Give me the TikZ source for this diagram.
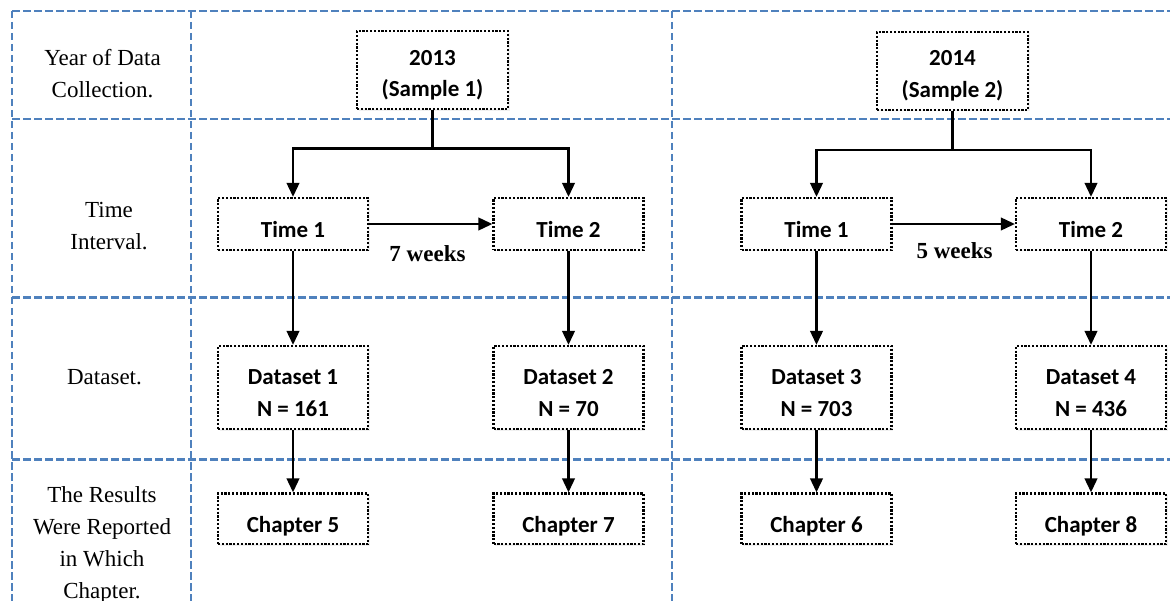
\documentclass[tikz,border=0pt]{standalone}
\usepackage{fontspec}
\setmainfont{Liberation Serif}
\newfontfamily\boxfont{Carlito}
\usetikzlibrary{arrows.meta,shadows}
\definecolor{gridblue}{RGB}{79,129,189}
\begin{document}
\begin{tikzpicture}[x=1pt,y=-1pt,
  grid/.style={gridblue, line width=2.4pt, dash pattern=on 7.5pt off 3.5pt},
  stepbox/.style={draw=black, line width=2.2pt, dash pattern=on 2.2pt off 1.6pt,
    fill=white, inner sep=0pt, minimum width=150pt,
    font=\boxfont\bfseries\fontsize{23}{31.5}\selectfont,
    drop shadow={opacity=0.12, shadow xshift=1.5pt, shadow yshift=-1.5pt}},
  yearbox/.style={stepbox, minimum width=151pt, text height=34pt, text depth=44pt},
  timebox/.style={stepbox, text height=40pt, text depth=12pt},
  databox/.style={stepbox, text height=39pt, text depth=44pt},
  chapbox/.style={stepbox, text height=39pt, text depth=11.5pt},
  rowlabel/.style={inner sep=0pt, anchor=base, font=\fontsize{23}{32}\selectfont},
  gaplabel/.style={inner sep=0pt, anchor=base, font=\bfseries\fontsize{23}{28}\selectfont},
  link/.style={black, line width=2.4pt},
  arrow/.style={link, -{Triangle[length=14pt,width=12.5pt]}}
]
\useasboundingbox (0,0) rectangle (1170,601);

% table grid
\draw[grid] (12,11) -- (1170,11);
\draw[grid] (12,119) -- (1170,119);
\draw[grid] (12,297.5) -- (1170,297.5);
\draw[grid] (12,459.5) -- (1170,459.5);
\draw[grid] (12,11) -- (12,601);
\draw[grid] (191,11) -- (191,601);
\draw[grid] (672,11) -- (672,601);

% row headings
\node[rowlabel] (hyear) at (102.5,65.7) {\begin{tabular}[t]{@{}c@{}}Year of Data\\Collection.\end{tabular}};
\node[rowlabel] (htime) at (109,217.5) {\begin{tabular}[t]{@{}c@{}}Time\\Interval.\end{tabular}};
\node[rowlabel] (hdata) at (104.5,385) {Dataset.};
\node[rowlabel] (hchap) at (102,502) {\begin{tabular}[t]{@{}c@{}}The Results\\Were Reported\\in Which\\Chapter.\end{tabular}};

% samples
\node[yearbox] (y13) at (432.5,70.25) {\begin{tabular}[t]{@{}c@{}}2013\\(Sample 1)\end{tabular}};
\node[yearbox] (y14) at (952.5,71) {\begin{tabular}[t]{@{}c@{}}2014\\(Sample 2)\end{tabular}};

% time points
\node[timebox] (t1a) at (293,224) {Time 1};
\node[timebox] (t2a) at (568.5,224) {Time 2};
\node[timebox] (t1b) at (816.5,224) {Time 1};
\node[timebox] (t2b) at (1091,224) {Time 2};

% datasets
\node[databox] (d1) at (293,387.5) {\begin{tabular}[t]{@{}c@{}}Dataset 1\\N = 161\end{tabular}};
\node[databox] (d2) at (568.5,387.5) {\begin{tabular}[t]{@{}c@{}}Dataset 2\\N = 70\end{tabular}};
\node[databox] (d3) at (816.5,387.5) {\begin{tabular}[t]{@{}c@{}}Dataset 3\\N = 703\end{tabular}};
\node[databox] (d4) at (1091,387.5) {\begin{tabular}[t]{@{}c@{}}Dataset 4\\N = 436\end{tabular}};

% chapters
\node[chapbox] (c5) at (293,518.75) {Chapter 5};
\node[chapbox] (c7) at (568.5,518.75) {Chapter 7};
\node[chapbox] (c6) at (816.5,518.75) {Chapter 6};
\node[chapbox] (c8) at (1091,518.75) {Chapter 8};

% intervals
\node[gaplabel] (w7) at (427.5,261.7) {7 weeks};
\node[gaplabel] (w5) at (954.5,259) {5 weeks};

% branching from each sample
\coordinate (s13) at (432.5,148.5);
\coordinate (s14) at (952.5,150);
\draw[link] (y13.south) -- (s13);
\draw[arrow] (s13) -| (t1a.north);
\draw[arrow] (s13) -| (t2a.north);
\draw[link] (y14.south) -- (s14);
\draw[arrow] (s14) -| (t1b.north);
\draw[arrow] (s14) -| (t2b.north);

% follow-up intervals
\draw[arrow] (t1a.east) -- (t2a.west);
\draw[arrow] (t1b.east) -- (t2b.west);

% time point to dataset to chapter
\draw[arrow] (t1a) -- (d1);
\draw[arrow] (t2a) -- (d2);
\draw[arrow] (t1b) -- (d3);
\draw[arrow] (t2b) -- (d4);
\draw[arrow] (d1) -- (c5);
\draw[arrow] (d2) -- (c7);
\draw[arrow] (d3) -- (c6);
\draw[arrow] (d4) -- (c8);
\end{tikzpicture}
\end{document}
